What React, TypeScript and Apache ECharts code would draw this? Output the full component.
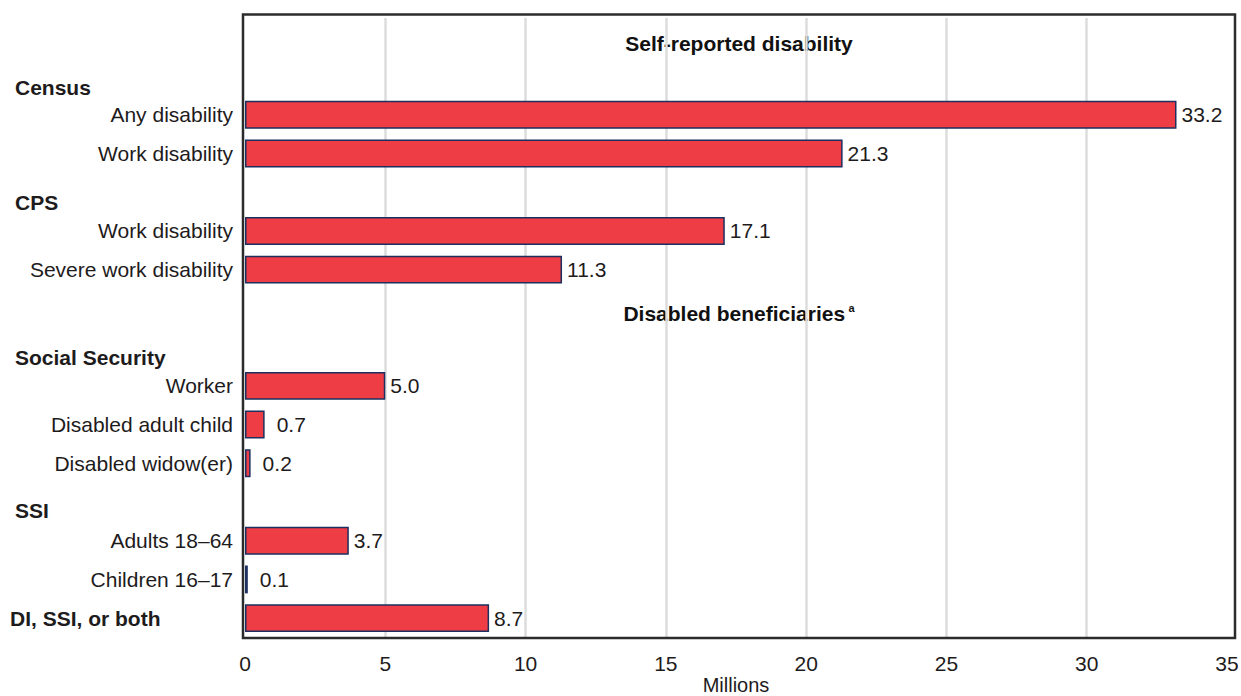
import React, { useEffect, useRef } from 'react';
import * as echarts from 'echarts';

// Rows from top to bottom (blank entries are spacer rows)
const rowLabels = [
  '', '', 'Any disability', 'Work disability', '', 'Work disability', 'Severe work disability',
  '', '', 'Worker', 'Disabled adult child', 'Disabled widow(er)', '', 'Adults 18–64',
  'Children 16–17', 'DI, SSI, or both',
];
const rowValues: (number | null)[] = [
  null, null, 33.2, 21.3, null, 17.1, 11.3, null, null, 5.0, 0.7, 0.2, null, 3.7, 0.1, 8.7,
];
const boldRows = ['DI, SSI, or both'];
const groupHeaders = ['Census', 'CPS', 'Social Security', 'SSI'];
const sectionTitles = ['Self-reported disability', 'Disabled beneficiaries'];
const sectionNote = 'a';
const xMin = 0;
const xMax = 35;
const xStep = 5;
const xAxisName = 'Millions';

const FONT = '"Liberation Sans", Arial, Helvetica, sans-serif';
const TXT = '#1e1b1c';
const FS = 21;

export default function App() {
  const ref = useRef<HTMLDivElement>(null);
  useEffect(() => {
    if (!ref.current) return;
    const chart = echarts.init(ref.current, undefined, { renderer: 'svg' });
    const headerY = [87, 202, 357, 510];
    const option: any = {
      animation: false,
      textStyle: { fontFamily: FONT },
      grid: {
        left: 245,
        right: 14,
        top: 18,
        bottom: 58.5,
        containLabel: false,
        outerBoundsMode: 'none',
      },
      xAxis: {
        type: 'value',
        min: xMin,
        max: xMax,
        interval: xStep,
        axisLine: { show: false },
        axisTick: { show: false },
        splitLine: {
          show: true,
          showMinLine: false,
          showMaxLine: false,
          lineStyle: { color: '#dcdcdc', width: 2.5 },
        },
        axisLabel: { color: TXT, fontSize: FS, fontFamily: FONT, margin: 15 },
        name: xAxisName,
        nameLocation: 'middle',
        nameGap: 37,
        nameMoveOverlap: false,
        nameTextStyle: { color: TXT, fontSize: 20, fontFamily: FONT, lineHeight: 20 },
      },
      yAxis: {
        type: 'category',
        inverse: true,
        data: rowLabels.map((_, i) => String(i)),
        axisLine: { show: false },
        axisTick: { show: false },
        splitLine: { show: false },
        axisLabel: {
          color: TXT,
          fontSize: FS,
          fontFamily: FONT,
          margin: 12,
          interval: 0,
          formatter: (v: string) => {
            const lab = rowLabels[Number(v)];
            if (!lab) return '';
            return boldRows.includes(lab) ? `{b|${lab}}` : lab;
          },
          rich: {
            b: { fontWeight: 'bold', fontSize: FS, fontFamily: FONT, color: TXT, width: 223, align: 'left' },
          },
        },
      },
      series: [
        {
          type: 'bar',
          barWidth: '72%',
          data: rowValues.map((v) =>
            v === null
              ? null
              : { value: v, label: { distance: v < 1 ? 12 : 5 } }
          ),
          itemStyle: { color: '#ef3d45', borderColor: '#1c2f5e', borderWidth: 1.5 },
          label: {
            show: true,
            position: 'right',
            color: TXT,
            fontSize: FS,
            fontFamily: FONT,
            formatter: (p: any) => Number(p.value).toFixed(1),
          },
        },
      ],
      graphic: [
        {
          type: 'rect',
          shape: { x: 243, y: 14.5, width: 992, height: 623.5 },
          style: { fill: 'none', stroke: '#2b2b2b', lineWidth: 2.5 },
          z: 100,
          silent: true,
        },
        ...groupHeaders.map((h, i) => ({
          type: 'text',
          x: 15,
          y: headerY[i],
          style: { text: h, font: `bold ${FS}px ${FONT}`, fill: TXT, verticalAlign: 'middle' },
        })),
        {
          type: 'text',
          x: 739,
          y: 43,
          style: {
            text: sectionTitles[0],
            font: `bold ${FS}px ${FONT}`,
            fill: '#111',
            align: 'center',
            verticalAlign: 'middle',
          },
        },
        {
          type: 'text',
          x: 739,
          y: 313,
          style: {
            text: `{t|${sectionTitles[1]}} {s|${sectionNote}}`,
            align: 'center',
            verticalAlign: 'middle',
            rich: {
              t: { font: `bold ${FS}px ${FONT}`, fill: '#111' },
              s: { font: `bold 11px ${FONT}`, fill: '#111', verticalAlign: 'top', padding: [0, 0, 10, 0] },
            },
          },
        },
      ],
    };
    chart.setOption(option);
    return () => chart.dispose();
  }, []);
  return (
    <div
      ref={ref}
      style={{ position: 'absolute', left: 0, top: 0, width: 1241, height: 696, background: '#fff' }}
    />
  );
}
